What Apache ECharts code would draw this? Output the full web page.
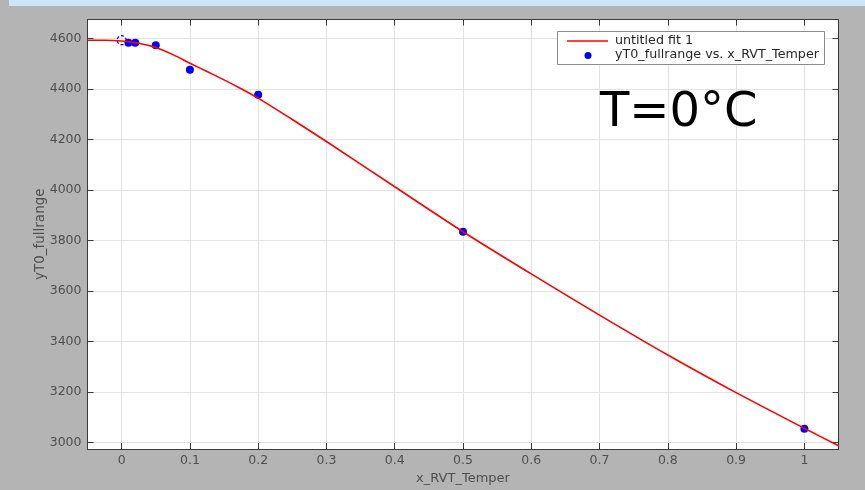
<!DOCTYPE html>
<html>
<head>
<meta charset="utf-8">
<script src="https://cdn.jsdelivr.net/npm/echarts@6/dist/echarts.min.js"></script>
<style>
html, body { margin: 0; padding: 0; background: #b4b4b4; }
#chart { width: 865px; height: 490px; }
</style>
</head>
<body>
<div id="chart"></div>
<script>
// Fitted curve, sampled along x
const fitX = [-0.05, -0.025, 0, 0.025, 0.05, 0.075, 0.1, 0.125, 0.15, 0.175, 0.2, 0.25, 0.3, 0.4, 0.5, 0.6, 0.7, 0.8, 0.9, 1.0, 1.05];
const fitY = [4593, 4593, 4590, 4581, 4564, 4536, 4502, 4469, 4436, 4401, 4364, 4279, 4192, 4013, 3835, 3668, 3505, 3347, 3198, 3057, 2988];

// Measured points
const pointX = [0.01, 0.02, 0.05, 0.1, 0.2, 0.5, 1.0];
const pointY = [4583, 4583, 4573, 4476, 4377, 3835, 3055];

// Point at x = 0 drawn with a dashed outline
const markedX = [0];
const markedY = [4593];

// Tick positions
const xTicks = [0, 0.1, 0.2, 0.3, 0.4, 0.5, 0.6, 0.7, 0.8, 0.9, 1];
const yTicks = [3000, 3200, 3400, 3600, 3800, 4000, 4200, 4400, 4600];

const fitName = 'untitled fit 1';
const pointName = 'yT0_fullrange vs. x_RVT_Temper';
const xName = 'x_RVT_Temper';
const yName = 'yT0_fullrange';
const titleText = 'T=0°C';

const FONT = 'DejaVu Sans';
const AX = '#3a3a3a';
const LBL = '#4f4f4f';

const zip = (xs, ys) => xs.map((x, i) => [x, ys[i]]);
const plain = v => String(v);

const chart = echarts.init(document.getElementById('chart'), null, { renderer: 'canvas' });

const xBase = { type: 'value', min: -0.05, max: 1.05 };
const yBase = { type: 'value', min: 2975, max: 4675 };

chart.setOption({
  animation: false,
  backgroundColor: '#b4b4b4',
  grid: { left: 87.5, right: 26.5, top: 19.5, bottom: 41, containLabel: false,
          show: true, backgroundColor: '#ffffff', borderWidth: 0 },
  xAxis: [
    Object.assign({}, xBase, {
      position: 'bottom',
      name: xName, nameLocation: 'middle', nameGap: 23, nameMoveOverlap: false,
      nameTextStyle: { fontFamily: FONT, fontSize: 13, color: LBL },
      axisLine: { show: true, onZero: false, lineStyle: { color: AX, width: 1 } },
      axisTick: { show: true, inside: true, length: 6, customValues: xTicks, lineStyle: { color: AX } },
      axisLabel: { show: true, customValues: xTicks, formatter: plain, margin: 5, fontFamily: FONT, fontSize: 12.5, color: LBL },
      splitLine: { show: true, lineStyle: { color: '#e3e3e3', width: 1 } }
    }),
    Object.assign({}, xBase, {
      position: 'top',
      axisLine: { show: true, onZero: false, lineStyle: { color: AX, width: 1 } },
      axisTick: { show: true, inside: true, length: 6, customValues: xTicks, lineStyle: { color: AX } },
      axisLabel: { show: false },
      splitLine: { show: false }
    })
  ],
  yAxis: [
    Object.assign({}, yBase, {
      position: 'left',
      name: yName, nameLocation: 'middle', nameGap: 40, nameMoveOverlap: false,
      nameTextStyle: { fontFamily: FONT, fontSize: 13.5, color: LBL },
      axisLine: { show: true, onZero: false, lineStyle: { color: AX, width: 1 } },
      axisTick: { show: true, inside: true, length: 6, customValues: yTicks, lineStyle: { color: AX } },
      axisLabel: { show: true, customValues: yTicks, formatter: plain, margin: 6, fontFamily: FONT, fontSize: 12.5, color: LBL },
      splitLine: { show: true, lineStyle: { color: '#e3e3e3', width: 1 } }
    }),
    Object.assign({}, yBase, {
      position: 'right',
      axisLine: { show: true, onZero: false, lineStyle: { color: AX, width: 1 } },
      axisTick: { show: true, inside: true, length: 6, customValues: yTicks, lineStyle: { color: AX } },
      axisLabel: { show: false },
      splitLine: { show: false }
    })
  ],
  series: [
    {
      name: pointName, type: 'scatter', xAxisIndex: 0, yAxisIndex: 0,
      data: zip(pointX, pointY), symbol: 'circle', symbolSize: 8,
      itemStyle: { color: '#0000ff', opacity: 1 }, z: 2
    },
    {
      name: pointName, type: 'scatter', xAxisIndex: 0, yAxisIndex: 0,
      data: zip(markedX, markedY), symbol: 'circle', symbolSize: 9,
      itemStyle: { color: 'rgba(0,0,0,0)', opacity: 1, borderColor: '#0000ff', borderWidth: 1.2, borderType: [3, 2] }, z: 2
    },
    {
      name: fitName, type: 'line', xAxisIndex: 0, yAxisIndex: 0,
      data: zip(fitX, fitY), smooth: 0.3, showSymbol: false, symbol: 'none',
      lineStyle: { color: '#ff0000', width: 1.6 }, z: 3
    }
  ],
  graphic: [
    // window strip along the top edge
    { type: 'rect', left: 9, top: 0, shape: { width: 856, height: 6 }, style: { fill: '#cde5f7' }, silent: true },
    // large annotation
    { type: 'text', left: 600, top: 90,
      style: { text: titleText, fontFamily: FONT, fontSize: 48, fill: '#000000' }, z: 10 },
    // legend box
    { type: 'rect', shape: { x: 557.5, y: 31.5, width: 267, height: 33 },
      style: { fill: '#ffffff', stroke: '#8a8a8a', lineWidth: 1 }, z: 10 },
    { type: 'line', shape: { x1: 567, y1: 41, x2: 608, y2: 41 },
      style: { stroke: '#ff0000', lineWidth: 1.6 }, z: 11 },
    { type: 'circle', shape: { cx: 588, cy: 55.5, r: 3.5 }, style: { fill: '#0000ff' }, z: 11 },
    { type: 'text', x: 615, y: 41,
      style: { text: fitName, fontFamily: FONT, fontSize: 12.7, fill: '#262626', verticalAlign: 'middle' }, z: 11 },
    { type: 'text', x: 615, y: 55,
      style: { text: pointName, fontFamily: FONT, fontSize: 12.7, fill: '#262626', verticalAlign: 'middle' }, z: 11 }
  ]
});
</script>
</body>
</html>
